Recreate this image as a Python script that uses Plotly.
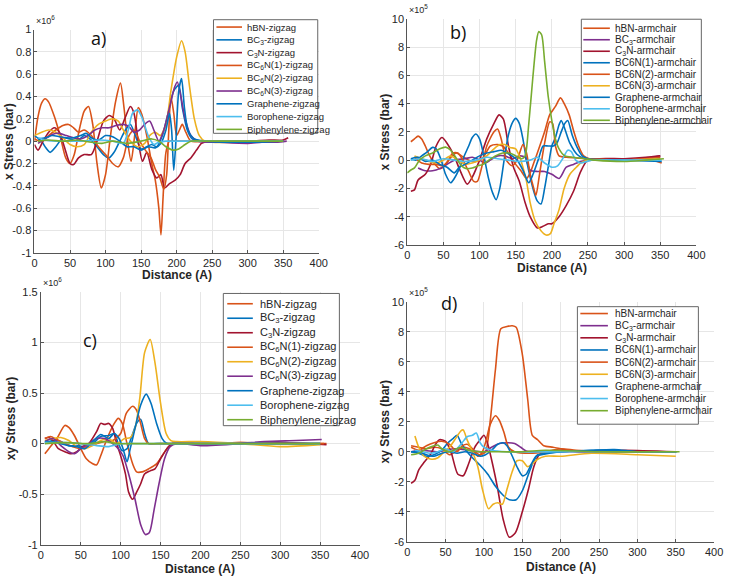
import plotly.graph_objects as go

# ---------------- DATA (x in Angstrom, y in units of the axis multiplier) ----------------
# Panel a: x Stress, zigzag (x 1e6 bar)
a_hbn = [(0,0.0),(5,0.22),(10,0.34),(15,0.38),(20,0.35),(28,0.22),(36,0.05),(44,-0.15),(50,-0.2),(56,-0.12),(63,0.1),(70,0.27),(76,0.31),(82,0.15),(88,-0.2),(94,-0.42),(100,-0.3),(107,0.05),(114,0.35),(121,0.52),(126,0.3),(131,0.0),(136,-0.18),(141,0.05),(146,0.3),(151,0.24),(158,0.05),(165,-0.2),(170,-0.35),(175,-0.6),(178,-0.84),(181,-0.5),(185,-0.1),(190,0.0),(200,0.0),(250,0.0),(300,0.0),(350,0.0)]
a_bc3 = [(0,0.05),(10,0.0),(16,-0.06),(22,-0.1),(30,-0.05),(40,0.03),(50,0.02),(60,0.0),(70,0.05),(78,0.02),(88,-0.05),(97,-0.12),(105,-0.15),(112,-0.1),(120,0.0),(128,0.1),(135,0.15),(142,0.05),(150,-0.07),(158,-0.05),(165,-0.03),(172,-0.05),(180,0.05),(188,0.25),(196,0.45),(203,0.5),(208,0.3),(215,0.1),(222,0.02),(235,0.0),(300,0.0),(350,0.0)]
a_c3n = [(0,-0.03),(5,-0.08),(12,0.0),(20,0.08),(28,0.12),(35,0.08),(42,-0.05),(50,-0.2),(55,-0.21),(62,-0.15),(70,-0.12),(80,-0.12),(88,0.0),(97,0.18),(105,0.23),(112,0.2),(120,0.1),(127,0.2),(135,0.31),(140,0.25),(146,0.0),(152,-0.18),(158,-0.1),(165,-0.25),(172,-0.33),(178,-0.3),(183,-0.42),(190,-0.38),(198,-0.35),(205,-0.3),(212,-0.2),(220,-0.15),(228,-0.08),(235,-0.02),(245,0.0),(300,0.0),(330,0.01),(350,0.01),(357,0.03)]
a_bc6n1 = [(0,0.02),(10,0.0),(20,0.05),(30,0.1),(40,0.14),(48,0.15),(55,0.12),(62,0.08),(70,0.1),(80,0.05),(90,-0.05),(100,-0.12),(110,-0.2),(118,-0.23),(125,-0.15),(133,0.05),(140,0.1),(148,0.0),(156,-0.08),(164,-0.15),(170,-0.25),(176,-0.32),(182,-0.43),(186,-0.3),(189,0.1),(192,0.4),(196,0.25),(200,0.05),(204,0.1),(208,0.15),(213,0.08),(220,0.0),(240,0.0),(300,0.0),(350,0.0)]
a_bc6n2 = [(0,0.05),(10,0.08),(20,0.1),(30,0.08),(40,0.03),(50,-0.03),(60,-0.05),(70,-0.03),(80,0.08),(90,0.15),(100,0.18),(110,0.2),(118,0.18),(125,0.1),(135,0.0),(145,-0.05),(155,-0.02),(162,0.05),(170,0.08),(177,0.05),(185,0.15),(192,0.45),(200,0.75),(207,0.9),(212,0.8),(218,0.5),(225,0.2),(232,0.05),(240,0.0),(300,-0.01),(350,0.0)]
a_bc6n3 = [(5,-0.02),(15,0.02),(25,0.06),(35,0.07),(45,0.05),(55,0.03),(65,0.02),(75,0.05),(85,0.1),(95,0.12),(105,0.12),(115,0.14),(125,0.15),(133,0.13),(140,0.08),(148,0.1),(155,0.15),(162,0.18),(168,0.1),(175,0.0),(182,0.1),(190,0.3),(197,0.48),(201,0.53),(206,0.4),(212,0.2),(220,0.05),(230,0.0),(260,-0.01),(300,-0.02),(320,-0.01),(340,-0.01),(355,0.0)]
a_graphene = [(5,0.02),(15,0.03),(25,0.05),(35,0.04),(45,0.03),(55,0.03),(65,0.05),(73,0.07),(80,0.03),(90,0.01),(100,0.05),(110,0.04),(120,0.0),(130,-0.05),(140,-0.05),(150,-0.08),(160,-0.05),(170,-0.06),(178,-0.02),(185,0.1),(190,0.25),(193,0.1),(196,-0.26),(199,0.0),(203,0.45),(207,0.56),(211,0.3),(216,0.1),(225,0.02),(240,0.0),(300,-0.01),(350,0.0)]
a_borophene = [(5,0.03),(15,0.01),(30,0.0),(50,0.0),(70,0.0),(90,0.01),(110,0.0),(125,-0.02),(132,0.1),(138,0.25),(145,0.28),(152,0.2),(160,0.05),(168,-0.03),(175,-0.01),(185,0.0),(200,0.0),(250,0.0),(300,0.0),(350,0.0)]
a_biphenylene = [(5,0.0),(20,0.01),(40,0.0),(60,0.01),(80,-0.01),(95,-0.02),(110,0.0),(130,-0.02),(150,0.0),(165,0.02),(175,0.0),(185,-0.05),(195,-0.08),(203,-0.07),(212,-0.03),(220,0.0),(240,0.0),(300,0.0),(350,0.0)]

# Panel b: x Stress, armchair (x 1e5 bar)
b_hbn = [(5,1.3),(10,1.5),(15,1.7),(20,1.5),(25,1.0),(30,0.4),(37,-0.2),(45,-0.6),(50,-0.5),(55,-0.2),(62,0.3),(68,0.5),(75,0.3),(85,0.0),(95,-0.1),(105,0.2),(115,1.0),(125,1.1),(132,1.0),(140,0.5),(150,-0.3),(158,-0.8),(165,-1.3),(170,-0.9),(175,-0.2),(182,0.8),(190,2.0),(197,3.2),(205,3.8),(212,4.4),(218,3.9),(224,3.2),(230,2.1),(237,1.0),(244,0.3),(252,0.1),(270,0.1),(300,0.0),(330,0.1),(352,-0.2)]
b_bc3 = [(15,-0.55),(25,-0.75),(35,-0.75),(45,-0.6),(55,-0.3),(65,0.0),(80,0.1),(90,0.2),(100,0.0),(108,-0.2),(115,0.0),(125,0.3),(135,0.3),(145,0.1),(155,0.3),(163,0.2),(170,-0.7),(180,-0.8),(190,-0.8),(200,-1.0),(210,-1.3),(220,-0.5),(230,-0.3),(240,-0.1),(255,0.0),(300,0.0),(330,0.1),(350,0.3)]
b_c3n = [(5,-2.2),(10,-2.1),(15,-1.4),(25,-1.0),(33,-0.2),(40,1.0),(48,1.6),(55,1.2),(65,0.3),(72,-0.6),(83,-1.7),(90,-1.2),(100,0.0),(110,1.5),(120,2.6),(127,3.2),(133,2.9),(140,1.0),(147,-0.5),(155,-1.5),(163,-3.0),(170,-4.0),(180,-4.8),(187,-4.7),(195,-4.5),(200,-4.5),(210,-4.0),(220,-3.2),(230,-2.2),(240,-0.8),(250,0.0),(300,0.1),(330,0.2),(350,0.3)]
b_bc6n1 = [(5,0.1),(12,0.0),(20,0.3),(28,0.6),(35,0.9),(40,0.8),(47,0.0),(53,-1.0),(60,-1.6),(65,-1.3),(72,-0.6),(78,0.2),(85,1.0),(90,1.6),(95,1.85),(100,1.5),(106,0.3),(112,-1.2),(118,-2.3),(123,-2.8),(128,-2.0),(134,0.0),(140,1.8),(146,2.7),(150,2.95),(155,2.6),(160,1.5),(165,0.0),(170,-1.2),(175,-2.2),(180,-2.9),(185,-3.1),(190,-2.0),(195,-0.5),(200,1.0),(205,1.6),(210,2.5),(213,2.8),(218,2.2),(225,1.2),(235,0.4),(245,0.1),(260,0.0),(300,0.0),(350,0.0)]
b_bc6n2 = [(10,0.2),(20,-0.2),(30,-0.3),(40,-0.3),(50,-0.4),(57,0.0),(63,0.5),(70,0.5),(77,0.0),(85,-0.8),(92,-1.5),(97,-1.5),(103,-0.5),(110,1.0),(120,2.0),(125,2.2),(130,1.5),(137,0.0),(145,-0.4),(152,0.0),(160,1.1),(165,0.5),(170,-1.0),(175,-2.0),(178,-2.5),(183,-1.0),(190,1.2),(197,2.7),(201,2.6),(205,1.0),(210,0.3),(220,0.2),(250,0.1),(300,0.0),(350,0.2)]
b_bc6n3 = [(10,0.3),(20,0.1),(30,-0.1),(40,-0.2),(50,0.0),(60,0.3),(70,0.0),(80,-0.3),(90,-0.2),(100,0.0),(110,0.3),(120,0.8),(128,1.1),(135,1.1),(142,0.9),(150,0.8),(155,0.3),(160,-0.5),(165,-1.5),(170,-3.0),(177,-4.3),(185,-5.0),(192,-5.3),(198,-5.2),(203,-4.5),(210,-3.5),(217,-2.0),(225,-1.0),(232,-0.6),(240,-0.2),(250,0.0),(300,0.0),(350,0.1)]
b_graphene = [(5,0.1),(15,0.2),(25,-0.1),(35,0.0),(45,-0.3),(55,-0.5),(65,-0.9),(72,-0.5),(80,-0.3),(90,0.0),(100,0.3),(110,0.5),(120,0.6),(130,0.7),(138,0.5),(145,0.3),(152,0.0),(160,-0.7),(168,-1.6),(174,-1.0),(181,0.0),(188,1.0),(195,1.0),(202,1.0),(207,1.2),(213,2.0),(218,2.6),(222,2.8),(228,1.8),(235,0.9),(242,0.3),(250,0.1),(300,0.0),(352,-0.1)]
b_borophene = [(5,0.0),(20,0.1),(35,-0.1),(50,0.1),(65,0.0),(80,-0.1),(95,0.0),(110,0.2),(125,0.1),(140,0.0),(155,-0.1),(170,0.0),(180,0.2),(190,-0.2),(200,-0.5),(208,-0.4),(215,0.1),(222,0.7),(227,0.6),(233,0.0),(240,-0.2),(255,0.0),(300,0.0),(352,0.0)]
b_biphenylene = [(0,-0.9),(5,-0.7),(10,-0.55),(17,0.0),(25,0.3),(35,0.5),(45,0.8),(53,0.92),(60,0.7),(67,0.2),(75,-0.4),(82,-0.6),(90,-0.55),(98,-0.4),(105,-0.3),(113,0.0),(122,0.3),(132,0.5),(142,0.5),(150,0.3),(158,0.1),(163,0.3),(168,2.5),(174,6.0),(179,8.5),(182,9.1),(186,8.85),(190,7.0),(195,4.5),(200,2.8),(205,1.5),(210,0.8),(218,0.3),(230,0.2),(245,0.1),(260,0.0),(300,-0.1),(330,0.0),(355,0.1)]

# Panel c: xy Stress, zigzag (x 1e6 bar)
c_hbn = [(5,-0.1),(10,-0.05),(20,0.05),(30,0.18),(35,0.16),(42,0.08),(50,-0.05),(57,-0.15),(65,-0.2),(70,-0.21),(75,-0.12),(83,0.05),(92,0.2),(97,0.25),(102,0.2),(108,0.0),(115,-0.2),(120,-0.28),(127,-0.28),(135,-0.25),(145,-0.2),(152,-0.12),(158,-0.05),(165,0.0),(200,0.0),(250,0.01),(300,0.0),(358,0.0)]
c_bc3 = [(5,0.0),(15,0.03),(25,0.02),(35,-0.02),(45,-0.02),(55,-0.03),(65,0.0),(75,0.07),(85,0.08),(92,0.1),(97,0.0),(102,-0.07),(108,-0.05),(113,0.05),(120,0.2),(125,0.24),(130,0.1),(135,0.0),(145,0.0),(200,0.0),(300,0.0),(350,0.0)]
c_c3n = [(5,0.05),(10,0.06),(15,0.03),(22,-0.05),(30,-0.08),(38,-0.1),(45,-0.08),(52,-0.03),(60,0.0),(70,0.12),(75,0.2),(80,0.19),(85,0.2),(90,0.15),(95,0.0),(100,-0.12),(106,-0.3),(110,-0.48),(115,-0.55),(120,-0.48),(125,-0.4),(130,-0.3),(137,-0.27),(143,-0.25),(150,-0.15),(158,-0.05),(165,0.0),(200,0.0),(250,0.0),(300,0.01),(358,-0.01)]
c_bc6n1 = [(5,0.05),(12,0.07),(20,0.04),(30,0.0),(40,-0.03),(50,-0.05),(60,-0.02),(70,0.0),(80,0.02),(90,0.03),(100,0.1),(107,0.3),(115,0.37),(120,0.33),(125,0.2),(130,0.05),(135,0.0),(150,0.0),(200,0.0),(250,0.01),(300,0.0),(355,0.0)]
c_bc6n2 = [(5,0.03),(15,0.05),(25,0.06),(35,0.03),(45,-0.03),(55,-0.05),(65,-0.02),(75,0.03),(85,0.05),(95,0.0),(105,0.05),(112,0.06),(118,0.15),(124,0.45),(130,0.9),(137,1.03),(143,0.8),(150,0.4),(157,0.1),(163,0.03),(170,0.02),(200,0.02),(250,0.0),(300,-0.03),(350,-0.01)]
c_bc6n3 = [(5,0.02),(15,0.05),(25,-0.02),(35,-0.08),(42,-0.1),(50,-0.05),(60,0.0),(70,0.05),(80,0.05),(90,0.0),(97,-0.05),(103,-0.12),(110,-0.3),(118,-0.55),(125,-0.8),(131,-0.9),(136,-0.88),(142,-0.65),(148,-0.4),(155,-0.15),(162,-0.03),(170,0.0),(200,-0.02),(250,0.0),(280,0.02),(320,0.03),(352,0.04)]
c_graphene = [(5,0.02),(15,0.02),(25,0.0),(35,-0.02),(45,-0.03),(55,-0.05),(65,0.02),(75,0.09),(85,0.05),(92,0.1),(98,0.05),(103,-0.05),(108,-0.18),(112,-0.05),(118,0.15),(125,0.38),(132,0.49),(138,0.4),(145,0.2),(152,0.05),(158,0.0),(165,0.0),(200,0.0),(250,0.0),(350,0.0)]
c_borophene = [(5,0.01),(30,0.01),(50,0.0),(70,-0.02),(85,-0.03),(100,0.0),(120,0.0),(200,0.0),(350,0.0)]
c_biphenylene = [(5,0.0),(30,0.01),(60,0.0),(80,0.02),(95,0.0),(120,0.0),(200,0.0),(350,0.0)]

# Panel d: xy Stress, armchair (x 1e5 bar)
d_hbn = [(5,0.4),(15,0.3),(25,0.2),(35,0.3),(45,0.2),(55,-0.2),(65,0.1),(75,0.3),(85,0.1),(95,-0.2),(102,0.0),(108,2.0),(115,5.5),(122,8.2),(130,8.35),(137,8.4),(142,8.3),(150,6.5),(157,3.5),(163,1.1),(170,0.8),(178,0.4),(190,0.3),(200,0.2),(220,0.0),(250,0.0),(300,0.0),(350,0.0)]
d_bc3 = [(5,0.0),(20,0.1),(40,0.0),(60,0.2),(80,0.1),(100,0.0),(110,0.3),(120,0.55),(130,0.6),(140,0.55),(148,0.3),(155,0.05),(165,0.0),(200,0.0),(250,0.0),(300,0.0),(350,0.0)]
d_c3n = [(5,-2.1),(10,-1.9),(15,-1.2),(22,-0.7),(30,-0.2),(37,0.5),(42,0.8),(50,0.7),(57,0.0),(66,-1.5),(73,-1.6),(80,-0.8),(88,0.3),(95,0.8),(100,1.1),(105,0.5),(112,-1.0),(118,-2.5),(125,-4.5),(133,-5.7),(141,-5.4),(150,-4.0),(158,-2.5),(165,-1.0),(172,-0.2),(180,0.0),(200,0.1),(250,0.0),(280,0.1),(350,0.0)]
d_bc6n1 = [(5,0.0),(15,-0.1),(25,-0.3),(35,-0.2),(45,0.1),(53,0.6),(60,0.9),(65,1.1),(70,0.6),(78,0.0),(85,-0.4),(95,-0.9),(105,-1.5),(115,-2.3),(125,-2.9),(133,-3.2),(142,-3.2),(150,-2.6),(158,-1.5),(165,-0.6),(170,-0.2),(180,-0.1),(200,0.0),(250,0.1),(270,0.1),(300,0.0),(350,0.0)]
d_bc6n2 = [(5,0.3),(15,0.1),(25,0.4),(35,0.6),(45,0.7),(55,0.5),(65,0.0),(72,0.4),(78,0.5),(85,0.2),(92,-0.3),(98,0.0),(103,0.8),(108,1.8),(115,2.4),(120,2.1),(126,1.3),(132,0.3),(140,0.0),(160,-0.1),(180,0.0),(200,0.2),(220,0.1),(260,0.0),(300,0.0),(350,0.0)]
d_bc6n3 = [(10,1.05),(15,0.3),(22,-0.3),(32,-0.5),(40,-0.4),(48,0.0),(55,0.3),(62,0.8),(70,1.4),(73,1.45),(78,0.8),(85,0.0),(92,-1.0),(98,-2.5),(106,-3.8),(112,-3.5),(118,-3.4),(124,-3.5),(130,-2.5),(137,-1.3),(143,-0.6),(150,-0.6),(157,-1.0),(163,-0.8),(170,-0.5),(180,-0.3),(200,-0.3),(240,-0.1),(300,-0.2),(350,-0.3)]
d_graphene = [(5,0.0),(15,0.0),(25,-0.2),(35,-0.3),(45,-0.1),(55,0.0),(65,-0.1),(75,0.0),(85,-0.1),(95,-0.3),(102,-0.2),(110,0.1),(118,0.5),(125,0.6),(130,0.4),(137,-0.3),(143,-1.0),(150,-1.6),(155,-1.5),(162,-0.8),(168,-0.3),(175,-0.2),(200,0.0),(240,0.1),(270,0.15),(300,0.0),(352,0.0)]
d_borophene = [(10,0.1),(20,0.0),(30,-0.1),(40,0.0),(50,0.2),(60,0.0),(70,0.5),(78,1.0),(85,1.1),(90,1.25),(95,0.6),(100,0.3),(110,0.1),(130,0.0),(200,0.0),(350,0.0)]
d_biphenylene = [(5,-0.2),(15,-0.1),(25,0.2),(35,0.4),(40,0.45),(45,0.2),(55,0.0),(70,0.3),(80,0.1),(95,0.0),(110,0.0),(150,0.0),(180,0.1),(250,0.0),(355,0.0)]

names_zig = ["hBN-zigzag", "BC<sub>3</sub>-zigzag", "C<sub>3</sub>N-zigzag", "BC<sub>6</sub>N(1)-zigzag",
             "BC<sub>6</sub>N(2)-zigzag", "BC<sub>6</sub>N(3)-zigzag", "Graphene-zigzag",
             "Borophene-zigzag", "Biphenylene-zigzag"]
names_arm = ["hBN-armchair", "BC<sub>3</sub>-armchair", "C<sub>3</sub>N-armchair", "BC6N(1)-armchair",
             "BC6N(2)-armchair", "BC6N(3)-armchair", "Graphene-armchair",
             "Borophene-armchair", "Biphenylene-armchair"]

BLUE, ORANGE, YELLOW, PURPLE, GREEN, LBLUE, RED = "#0072BD", "#D95319", "#EDB120", "#7E2F8E", "#77AC30", "#4DBEEE", "#A2142F"
colors_zig = [ORANGE, BLUE, RED, ORANGE, YELLOW, PURPLE, BLUE, LBLUE, GREEN]
colors_arm = [ORANGE, PURPLE, RED, BLUE, ORANGE, YELLOW, BLUE, LBLUE, GREEN]

x_ticks = [0, 50, 100, 150, 200, 250, 300, 350, 400]
a_yticks = [-1, -0.8, -0.6, -0.4, -0.2, 0, 0.2, 0.4, 0.6, 0.8, 1]
b_yticks = [-6, -4, -2, 0, 2, 4, 6, 8, 10]
c_yticks = [-1, -0.5, 0, 0.5, 1, 1.5]
d_yticks = [-6, -4, -2, 0, 2, 4, 6, 8, 10]

# ---------------- LAYOUT HELPERS ----------------
W, H = 730, 583
def fx(p): return p / W
def fy(p): return 1 - p / H

panels = [
    dict(series=[a_hbn, a_bc3, a_c3n, a_bc6n1, a_bc6n2, a_bc6n3, a_graphene, a_borophene, a_biphenylene],
         names=names_zig, colors=colors_zig, yticks=a_yticks, box=(32, 321, 24, 252), mult="6",
         ytitle="x Stress (bar)", ytx=6, xty=275, label=("a)", 97, 33),
         leg=dict(box=(214, 320, 14, 130), lx=(217, 243), tx=246, y0=21.5, dy=13.06, fs=9.5)),
    dict(series=[b_hbn, b_bc3, b_c3n, b_bc6n1, b_bc6n2, b_bc6n3, b_graphene, b_borophene, b_biphenylene],
         names=names_arm, colors=colors_arm, yticks=b_yticks, box=(411, 705, 13, 244), mult="5",
         ytitle="x Stress (bar)", ytx=388, xty=267, label=("b)", 463, 27),
         leg=dict(box=(588, 710, 13.5, 120), lx=(590, 617), tx=620, y0=22.7, dy=11.75, fs=10)),
    dict(series=[c_hbn, c_bc3, c_c3n, c_bc6n1, c_bc6n2, c_bc6n3, c_graphene, c_borophene, c_biphenylene],
         names=names_zig, colors=colors_zig, yticks=c_yticks, box=(38.5, 363, 292, 550), mult="6",
         ytitle="xy Stress (bar)", ytx=8, xty=575, label=("c)", 88, 341),
         leg=dict(box=(224, 342, 293.5, 428.5), lx=(228, 254), tx=259, y0=304, dy=14.8, fs=11)),
    dict(series=[d_hbn, d_bc3, d_c3n, d_bc6n1, d_bc6n2, d_bc6n3, d_graphene, d_borophene, d_biphenylene],
         names=names_arm, colors=colors_arm, yticks=d_yticks, box=(411, 723, 302, 547), mult="5",
         ytitle="xy Stress (bar)", ytx=388, xty=573, label=("d)", 453, 303),
         leg=dict(box=(584, 707, 307, 427), lx=(587, 615), tx=620, y0=314, dy=12.4, fs=10)),
]

FONT = "Liberation Sans, Arial, sans-serif"
TXT = "#262626"
fig = go.Figure()
layout = dict(width=W, height=H, margin=dict(l=0, r=0, t=0, b=0), paper_bgcolor="white",
              plot_bgcolor="white", showlegend=False, font=dict(family=FONT, color=TXT))
annotations, shapes = [], []

def fmt(v):
    return f"{v:g}"

for i, p in enumerate(panels):
    n = "" if i == 0 else str(i + 1)
    xa, ya = "x" + n, "y" + n
    x0p, x1p, y0p, y1p = p["box"]
    axis_style = dict(ticks="inside", ticklen=3, tickcolor="#555", showline=True, linecolor="#555",
                      linewidth=1, showgrid=True, gridcolor="#e6e6e6", zeroline=False,
                      tickfont=dict(size=11, color=TXT, family=FONT))
    layout["xaxis" + n] = dict(domain=[fx(x0p), fx(x1p)], anchor=ya, range=[0, 400],
                               tickvals=x_ticks, ticktext=[fmt(v) for v in x_ticks], **axis_style)
    layout["yaxis" + n] = dict(domain=[fy(y1p), fy(y0p)], anchor=xa,
                               range=[p["yticks"][0], p["yticks"][-1]],
                               tickvals=p["yticks"], ticktext=[fmt(v) for v in p["yticks"]], **axis_style)
    for s, col in zip(p["series"], p["colors"]):
        fig.add_trace(go.Scatter(x=[q[0] for q in s], y=[q[1] for q in s], mode="lines",
                                 xaxis=xa, yaxis=ya, line=dict(color=col, width=1.6, shape="spline", smoothing=0.7),
                                 hoverinfo="skip"))
    # exponent label
    annotations.append(dict(x=fx(x0p), y=fy(y0p - 2), xref="paper", yref="paper", xanchor="left", yanchor="bottom",
                            text="×10<sup>" + p["mult"] + "</sup>", showarrow=False,
                            font=dict(size=9, color=TXT, family=FONT)))
    # axis titles
    annotations.append(dict(x=fx((x0p + x1p) / 2), y=fy(p["xty"]), xref="paper", yref="paper",
                            text="<b>Distance (A)</b>", showarrow=False, xanchor="center", yanchor="middle",
                            font=dict(size=12, color=TXT, family=FONT)))
    annotations.append(dict(x=fx(p["ytx"]), y=fy((y0p + y1p) / 2), xref="paper", yref="paper",
                            text="<b>" + p["ytitle"] + "</b>", showarrow=False, textangle=-90,
                            xanchor="center", yanchor="middle", font=dict(size=12, color=TXT, family=FONT)))
    # panel label
    lab, lx_, ly_ = p["label"]
    annotations.append(dict(x=fx(lx_), y=fy(ly_), xref="paper", yref="paper", text=lab, showarrow=False,
                            xanchor="center", yanchor="middle", font=dict(size=18, color="#111", family="Open Sans")))
    # legend (box, line samples, labels)
    lg = p["leg"]
    bx0, bx1, by0, by1 = lg["box"]
    shapes.append(dict(type="rect", xref="paper", yref="paper", x0=fx(bx0), x1=fx(bx1), y0=fy(by1), y1=fy(by0),
                       line=dict(color="#666", width=1), fillcolor="white", layer="above"))
    for k, (name, col) in enumerate(zip(p["names"], p["colors"])):
        yy = lg["y0"] + k * lg["dy"]
        shapes.append(dict(type="line", xref="paper", yref="paper", x0=fx(lg["lx"][0]), x1=fx(lg["lx"][1]),
                           y0=fy(yy), y1=fy(yy), line=dict(color=col, width=1.6), layer="above"))
        annotations.append(dict(x=fx(lg["tx"]), y=fy(yy), xref="paper", yref="paper", text=name, showarrow=False,
                                xanchor="left", yanchor="middle", font=dict(size=lg["fs"], color=TXT, family=FONT)))

layout["annotations"] = annotations
layout["shapes"] = shapes
fig.update_layout(**layout)
fig.write_html("out.html")
